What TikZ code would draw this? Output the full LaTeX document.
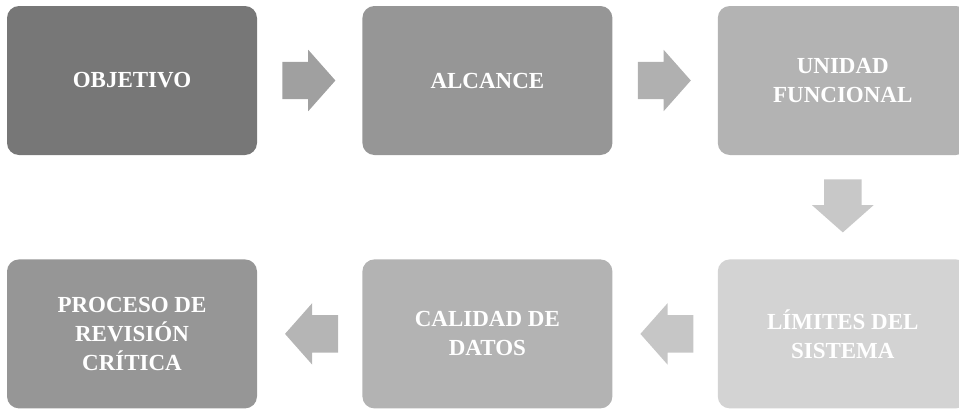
\documentclass[tikz,border=0pt]{standalone}
\usepackage{fontspec}
\setmainfont{Liberation Serif}
\usetikzlibrary{positioning,shapes.arrows,calc}

\definecolor{boxA}{HTML}{777777}
\definecolor{boxB}{HTML}{969696}
\definecolor{boxC}{HTML}{B3B3B3}
\definecolor{boxD}{HTML}{D3D3D3}
\definecolor{arrA}{HTML}{A0A0A0}
\definecolor{arrB}{HTML}{B0B0B0}
\definecolor{arrC}{HTML}{C8C8C8}
\definecolor{arrD}{HTML}{C6C6C6}
\definecolor{arrE}{HTML}{B5B5B5}

\begin{document}
\begin{tikzpicture}[x=1pt,y=-1pt]
        \tikzstyle{stage}=[rounded corners=12pt,minimum width=250pt,minimum height=149pt,
                           inner sep=0pt,text=white,align=center,
                           font=\fontsize{23}{29}\selectfont\bfseries]
        \tikzstyle{flow}=[single arrow,single arrow head extend=12pt,single arrow tip angle=97,
                          minimum height=53pt,minimum width=61pt,
                          inner xsep=0pt,inner ysep=18.5pt,anchor=tail]

        \useasboundingbox (0,0) rectangle (959,410);

        % first row
        \node[stage,fill=boxA] (obj) at (132,80.5) {OBJETIVO};
        \node[stage,fill=boxB,right=105pt of obj] (alc) {ALCANCE};
        \node[stage,fill=boxC,right=105pt of alc] (uni) {UNIDAD\\FUNCIONAL};

        % second row
        \node[stage,fill=boxD,below=104pt of uni] (lim) {LÍMITES DEL\\SISTEMA};
        \node[stage,fill=boxC,left=105pt of lim] (cal) {CALIDAD DE\\DATOS};
        \node[stage,fill=boxB,left=105pt of cal] (rev) {PROCESO DE\\REVISIÓN\\CRÍTICA};

        % block arrows
        \node[flow,fill=arrA] (obj-alc) at ($(obj.east)+(25pt,0)$) {};
        \node[flow,fill=arrB] (alc-uni) at ($(alc.east)+(25pt,0)$) {};
        \node[flow,fill=arrC,shape border rotate=270,inner xsep=18.5pt,inner ysep=0pt]
             (uni-lim) at ($(uni.south)+(0,-24pt)$) {};
        \node[flow,fill=arrD,shape border rotate=180] (lim-cal) at ($(lim.west)+(-24pt,0)$) {};
        \node[flow,fill=arrE,shape border rotate=180] (cal-rev) at ($(cal.west)+(-24pt,0)$) {};
      \end{tikzpicture}
\end{document}
